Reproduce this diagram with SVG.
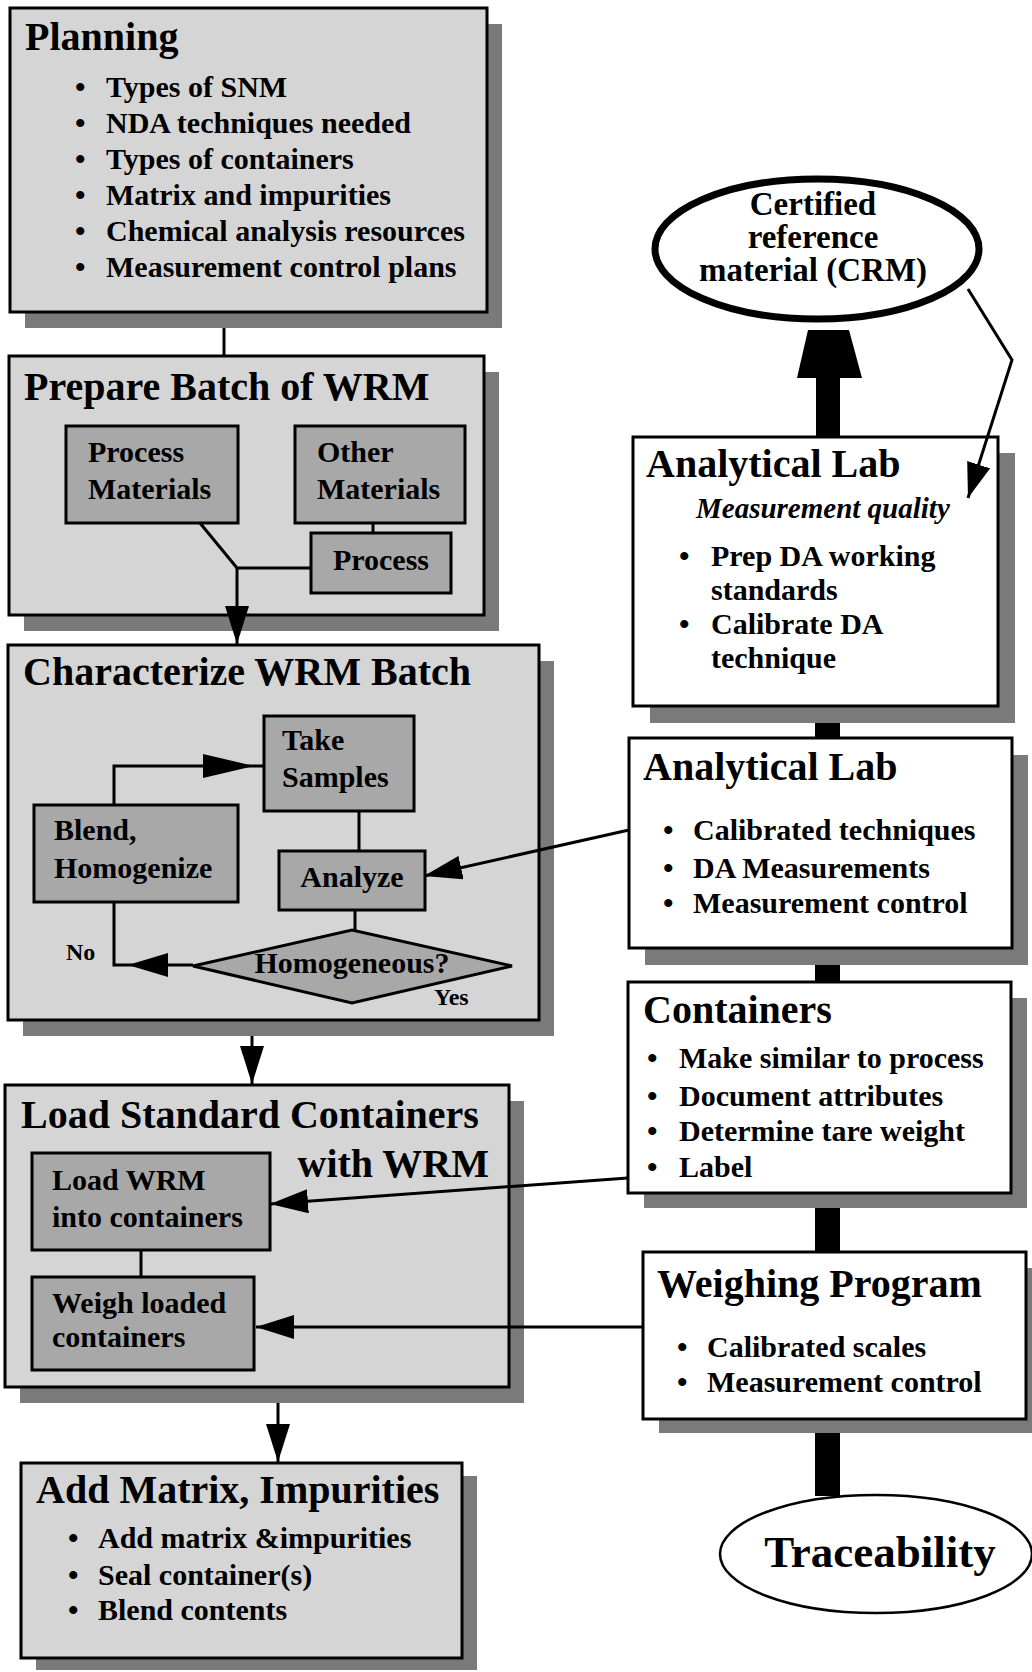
<svg xmlns="http://www.w3.org/2000/svg" width="1032" height="1672" viewBox="0 0 1032 1672">
<defs>
<style>
.t{font-family:"Liberation Serif","Times New Roman",serif;font-weight:bold;fill:#000}
.ti{font-size:40px}
.b{font-size:30px}
.s{font-size:24px}
.it{font-style:italic;font-size:29px}
.outer{fill:#d5d5d5;stroke:#000;stroke-width:3}
.inner{fill:#a8a8a8;stroke:#000;stroke-width:3}
.white{fill:#fff;stroke:#000;stroke-width:3}
.sh{fill:#7a7a7a}
.ln{stroke:#000;stroke-width:3;fill:none}
.ah{fill:#000}
</style>
<marker id="arr" markerWidth="38" markerHeight="24" refX="38" refY="12" orient="auto" markerUnits="userSpaceOnUse"><path d="M0,0 L38,12 L0,24 Z" fill="#000"/></marker>
<marker id="arrs" markerWidth="35" markerHeight="24" refX="35" refY="12" orient="auto" markerUnits="userSpaceOnUse"><path d="M0,0 L35,12 L0,24 Z" fill="#000"/></marker>
</defs>
<rect width="1032" height="1672" fill="#fff"/>

<g id="planning">
<rect class="sh" x="25" y="24" width="477" height="304"/>
<rect class="outer" x="10" y="8" width="477" height="304"/>
<text class="t ti" x="25" y="50">Planning</text>
<g class="t b">
<text x="75" y="97">•</text><text x="106" y="97">Types of SNM</text>
<text x="75" y="133">•</text><text x="106" y="133">NDA techniques needed</text>
<text x="75" y="169">•</text><text x="106" y="169">Types of containers</text>
<text x="75" y="205">•</text><text x="106" y="205">Matrix and impurities</text>
<text x="75" y="241">•</text><text x="106" y="241">Chemical analysis resources</text>
<text x="75" y="277">•</text><text x="106" y="277">Measurement control plans</text>
</g>
</g>

<g id="prepare">
<rect class="sh" x="24" y="372" width="475" height="259"/>
<rect class="outer" x="9" y="356" width="475" height="259"/>
<text class="t ti" x="24" y="400">Prepare Batch of WRM</text>
</g>
<g id="process-materials">
<rect class="inner" x="66" y="426" width="172" height="97"/>
<text class="t b" x="88" y="462">Process</text>
<text class="t b" x="88" y="499">Materials</text>
</g>
<g id="other-materials">
<rect class="inner" x="295" y="426" width="170" height="97"/>
<text class="t b" x="317" y="462">Other</text>
<text class="t b" x="317" y="499">Materials</text>
</g>
<g id="process">
<rect class="inner" x="311" y="533" width="140" height="60"/>
<text class="t b" x="381" y="570" text-anchor="middle">Process</text>
</g>

<g id="characterize">
<rect class="sh" x="23" y="661" width="531" height="375"/>
<rect class="outer" x="8" y="645" width="531" height="375"/>
<text class="t ti" x="23" y="685">Characterize WRM Batch</text>
</g>
<g id="take-samples">
<rect class="inner" x="264" y="716" width="150" height="95"/>
<text class="t b" x="282" y="750">Take</text>
<text class="t b" x="282" y="787">Samples</text>
</g>
<g id="blend">
<rect class="inner" x="34" y="805" width="204" height="97"/>
<text class="t b" x="54" y="840">Blend,</text>
<text class="t b" x="54" y="878">Homogenize</text>
</g>
<g id="analyze">
<rect class="inner" x="279" y="851" width="146" height="59"/>
<text class="t b" x="352" y="887" text-anchor="middle">Analyze</text>
</g>
<g id="homogeneous">
<polygon class="inner" points="193,966 352,930 512,966 352,1003"/>
<text class="t b" x="352" y="973" text-anchor="middle">Homogeneous?</text>
<text class="t s" x="66" y="960">No</text>
<text class="t s" x="434" y="1005">Yes</text>
</g>

<g id="load">
<rect class="sh" x="20" y="1101" width="504" height="302"/>
<rect class="outer" x="5" y="1085" width="504" height="302"/>
<text class="t ti" x="21" y="1128">Load Standard Containers</text>
<text class="t ti" x="489" y="1177" text-anchor="end">with WRM</text>
</g>
<g id="load-wrm">
<rect class="inner" x="32" y="1153" width="238" height="97"/>
<text class="t b" x="52" y="1190">Load WRM</text>
<text class="t b" x="52" y="1227">into containers</text>
</g>
<g id="weigh">
<rect class="inner" x="32" y="1277" width="222" height="93"/>
<text class="t b" x="52" y="1313">Weigh loaded</text>
<text class="t b" x="52" y="1347">containers</text>
</g>

<g id="add-matrix">
<rect class="sh" x="36" y="1476" width="441" height="194"/>
<rect class="outer" x="21" y="1463" width="441" height="195"/>
<text class="t ti" x="36" y="1503">Add Matrix, Impurities</text>
<g class="t b">
<text x="68" y="1548">•</text><text x="98" y="1548">Add matrix &amp;impurities</text>
<text x="68" y="1585">•</text><text x="98" y="1585">Seal container(s)</text>
<text x="68" y="1620">•</text><text x="98" y="1620">Blend contents</text>
</g>
</g>

<g id="crm">
<ellipse cx="817" cy="249" rx="162" ry="70" fill="#fff" stroke="#000" stroke-width="7"/>
<g class="t" font-size="33px" text-anchor="middle">
<text x="813" y="215">Certified</text>
<text x="813" y="248">reference</text>
<text x="813" y="281">material (CRM)</text>
</g>
</g>

<g id="lab1">
<rect class="sh" x="650" y="453" width="365" height="270"/>
<rect class="white" x="633" y="437" width="365" height="269"/>
<text class="t ti" x="646" y="477">Analytical Lab</text>
<text class="t it" x="696" y="518">Measurement quality</text>
<g class="t b">
<text x="679" y="566">•</text><text x="711" y="566">Prep DA working</text>
<text x="711" y="600">standards</text>
<text x="679" y="634">•</text><text x="711" y="634">Calibrate DA</text>
<text x="711" y="668">technique</text>
</g>
</g>

<g id="lab2">
<rect class="sh" x="645" y="755" width="383" height="210"/>
<rect class="white" x="629" y="738" width="383" height="210"/>
<text class="t ti" x="643" y="780">Analytical Lab</text>
<g class="t b">
<text x="663" y="840">•</text><text x="693" y="840">Calibrated techniques</text>
<text x="663" y="878">•</text><text x="693" y="878">DA Measurements</text>
<text x="663" y="913">•</text><text x="693" y="913">Measurement control</text>
</g>
</g>

<g id="containers">
<rect class="sh" x="644" y="998" width="383" height="210"/>
<rect class="white" x="628" y="982" width="383" height="211"/>
<text class="t ti" x="643" y="1023">Containers</text>
<g class="t b">
<text x="647" y="1068">•</text><text x="679" y="1068">Make similar to process</text>
<text x="647" y="1106">•</text><text x="679" y="1106">Document attributes</text>
<text x="647" y="1141">•</text><text x="679" y="1141">Determine tare weight</text>
<text x="647" y="1177">•</text><text x="679" y="1177">Label</text>
</g>
</g>

<g id="weighing">
<rect class="sh" x="659" y="1268" width="383" height="165"/>
<rect class="white" x="643" y="1252" width="383" height="167"/>
<text class="t ti" x="657" y="1297">Weighing Program</text>
<g class="t b">
<text x="677" y="1357">•</text><text x="707" y="1357">Calibrated scales</text>
<text x="677" y="1392">•</text><text x="707" y="1392">Measurement control</text>
</g>
</g>

<g id="traceability">
<ellipse cx="876" cy="1554" rx="156" ry="59" fill="#fff" stroke="#000" stroke-width="2.5"/>
<text class="t" font-size="45px" x="880" y="1567" text-anchor="middle">Traceability</text>
</g>

<g id="connectors">
<line class="ln" x1="224" y1="328" x2="224" y2="356"/>
<polyline class="ln" points="200,523 237,568 311,568"/>
<line class="ln" x1="373" y1="523" x2="373" y2="533"/>
<line class="ln" x1="237" y1="568" x2="237" y2="644" marker-end="url(#arr)"/>
<line class="ln" x1="359" y1="811" x2="359" y2="851"/>
<line class="ln" x1="355" y1="910" x2="355" y2="930"/>
<polyline class="ln" points="193,965 114,965 114,902"/>
<polygon class="ah" points="128,965 168,953 168,977"/>
<polyline class="ln" points="114,805 114,766 264,766"/>
<polygon class="ah" points="254,766 203,754 203,778"/>
<line class="ln" x1="629" y1="830" x2="424" y2="876" marker-end="url(#arr)"/>
<line class="ln" x1="252" y1="1036" x2="252" y2="1084" marker-end="url(#arr)"/>
<line class="ln" x1="141" y1="1250" x2="141" y2="1277"/>
<line class="ln" x1="628" y1="1178" x2="270" y2="1204" marker-end="url(#arr)"/>
<line class="ln" x1="643" y1="1327" x2="256" y2="1327" marker-end="url(#arr)"/>
<line class="ln" x1="278" y1="1403" x2="278" y2="1462" marker-end="url(#arr)"/>
<polyline class="ln" points="968,289 1012,360 968,498" marker-end="url(#arrs)"/>
<polygon class="ah" points="797,378 862,378 849,330 808,330"/>
<rect class="ah" x="816" y="376" width="24" height="61"/>
<rect class="ah" x="815" y="723" width="25" height="15"/>
<rect class="ah" x="815" y="965" width="25" height="17"/>
<rect class="ah" x="815" y="1208" width="25" height="44"/>
<rect class="ah" x="815" y="1433" width="25" height="63"/>
</g>
</svg>
